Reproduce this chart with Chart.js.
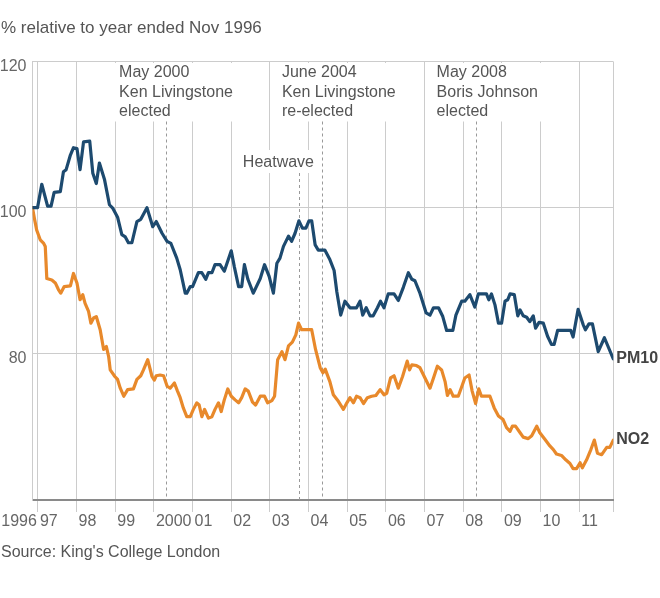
<!DOCTYPE html>
<html>
<head>
<meta charset="utf-8">
<script src="https://cdn.jsdelivr.net/npm/chart.js@4.4.1/dist/chart.umd.min.js"></script>
<style>
  html, body { margin: 0; padding: 0; background: #fff; }
  #wrap { position: relative; width: 660px; height: 598px; }
  #chart { position: absolute; left: 0; top: 0; }
  .note { position: absolute; left: 1px; white-space: nowrap; color: #555;
          font-family: "Liberation Sans", Arial, Helvetica, sans-serif; }
  #title { top: 19px; font-size: 17px; line-height: 17px; }
  #source { top: 544px; font-size: 16px; line-height: 16px; }
</style>
</head>
<body>
<div id="wrap">
  <canvas id="chart" width="660" height="598"></canvas>
  <div id="title" class="note">% relative to year ended Nov 1996</div>
  <div id="source" class="note">Source: King's College London</div>
</div>
<script>
// index values, year ended Nov 1996 = 100
const pm10Years = [1996.86, 1996.99, 1997.10, 1997.25, 1997.34, 1997.42, 1997.58, 1997.66, 1997.73, 1997.84,
  1997.92, 1998.01, 1998.09, 1998.18, 1998.34, 1998.42, 1998.51, 1998.59, 1998.72, 1998.85,
  1998.94, 1999.06, 1999.17, 1999.26, 1999.34, 1999.43, 1999.56, 1999.66, 1999.82, 1999.97,
  2000.06, 2000.21, 2000.34, 2000.44, 2000.59, 2000.68, 2000.81, 2000.85, 2000.94, 2001.00,
  2001.15, 2001.24, 2001.34, 2001.41, 2001.50, 2001.58, 2001.71, 2001.82, 2002.00, 2002.08,
  2002.19, 2002.27, 2002.34, 2002.43, 2002.57, 2002.75, 2002.86, 2002.98, 2003.09, 2003.18,
  2003.26, 2003.35, 2003.48, 2003.56, 2003.65, 2003.75, 2003.84, 2003.93, 2004.01, 2004.08,
  2004.17, 2004.25, 2004.42, 2004.55, 2004.66, 2004.73, 2004.83, 2004.94, 2005.07, 2005.24,
  2005.33, 2005.40, 2005.49, 2005.59, 2005.67, 2005.78, 2005.86, 2005.95, 2006.06, 2006.21,
  2006.32, 2006.45, 2006.58, 2006.67, 2006.75, 2006.88, 2007.04, 2007.14, 2007.23, 2007.36,
  2007.47, 2007.57, 2007.73, 2007.81, 2007.96, 2008.04, 2008.17, 2008.30, 2008.39, 2008.60,
  2008.66, 2008.73, 2008.82, 2008.91, 2008.99, 2009.08, 2009.15, 2009.21, 2009.32, 2009.41,
  2009.47, 2009.55, 2009.64, 2009.72, 2009.81, 2009.87, 2009.96, 2010.07, 2010.18, 2010.28,
  2010.35, 2010.44, 2010.78, 2010.84, 2010.97, 2011.10, 2011.16, 2011.25, 2011.34, 2011.49,
  2011.65, 2011.88];
const pm10Values = [100, 100, 103.2, 100.2, 100.2, 102.1, 102.2, 104.9, 105.2, 107.2,
  108.2, 108.1, 105.2, 109.0, 109.1, 104.7, 103.3, 106.1, 103.9, 100.4,
  99.9, 98.7, 96.3, 96.0, 95.2, 95.2, 98.1, 98.4, 100.0, 97.4,
  98.1, 96.5, 95.4, 95.1, 93.1, 91.5, 88.3, 88.3, 89.2, 89.2,
  91.1, 91.1, 90.2, 91.1, 91.1, 92.2, 92.2, 91.3, 94.1, 91.9,
  89.2, 89.2, 92.2, 90.2, 88.3, 90.3, 92.2, 90.6, 88.3, 92.4,
  93.1, 94.7, 96.1, 95.4, 96.5, 98.2, 97.2, 97.2, 98.2, 98.2,
  94.9, 94.2, 94.2, 92.9, 91.4, 88.5, 85.3, 87.2, 86.3, 86.3,
  87.2, 85.3, 86.3, 85.2, 85.2, 86.3, 87.2, 86.3, 88.2, 88.2,
  87.3, 89.1, 91.1, 90.2, 90.0, 88.3, 85.6, 85.3, 86.3, 86.3,
  85.1, 83.2, 83.2, 85.3, 87.2, 87.2, 88.1, 86.4, 88.2, 88.2,
  87.4, 88.2, 86.7, 84.2, 84.2, 87.2, 87.4, 88.2, 88.1, 85.2,
  86.0, 85.2, 85.0, 84.4, 85.2, 83.5, 84.3, 84.2, 82.4, 81.3,
  81.3, 83.2, 83.2, 82.3, 86.1, 84.0, 83.3, 84.1, 84.1, 80.3,
  82.2, 79.3];

const no2Years = [1996.86, 1996.91, 1996.97, 1997.06, 1997.15, 1997.19, 1997.23, 1997.36, 1997.45, 1997.53,
  1997.59, 1997.68, 1997.84, 1997.92, 1998.01, 1998.09, 1998.16, 1998.22, 1998.31, 1998.37,
  1998.44, 1998.51, 1998.61, 1998.70, 1998.77, 1998.83, 1998.87, 1998.99, 1999.06, 1999.13,
  1999.22, 1999.32, 1999.47, 1999.56, 1999.66, 1999.73, 1999.84, 1999.95, 2000.01, 2000.06,
  2000.16, 2000.25, 2000.34, 2000.42, 2000.53, 2000.61, 2000.68, 2000.76, 2000.85, 2000.94,
  2001.02, 2001.11, 2001.17, 2001.24, 2001.31, 2001.41, 2001.50, 2001.58, 2001.67, 2001.74,
  2001.82, 2001.91, 2002.00, 2002.10, 2002.19, 2002.27, 2002.36, 2002.44, 2002.55, 2002.63,
  2002.75, 2002.86, 2002.94, 2003.05, 2003.12, 2003.20, 2003.31, 2003.39, 2003.48, 2003.58,
  2003.67, 2003.74, 2003.82, 2003.99, 2004.08, 2004.18, 2004.30, 2004.37, 2004.43, 2004.55,
  2004.64, 2004.77, 2004.90, 2004.99, 2005.07, 2005.16, 2005.24, 2005.33, 2005.42, 2005.52,
  2005.63, 2005.74, 2005.85, 2005.95, 2006.02, 2006.12, 2006.21, 2006.32, 2006.43, 2006.55,
  2006.61, 2006.67, 2006.79, 2006.88, 2007.01, 2007.14, 2007.23, 2007.33, 2007.44, 2007.53,
  2007.59, 2007.66, 2007.74, 2007.87, 2007.96, 2008.04, 2008.15, 2008.23, 2008.32, 2008.40,
  2008.47, 2008.69, 2008.80, 2008.91, 2009.03, 2009.12, 2009.21, 2009.27, 2009.35, 2009.47,
  2009.55, 2009.68, 2009.77, 2009.90, 2009.98, 2010.11, 2010.24, 2010.33, 2010.41, 2010.54,
  2010.65, 2010.76, 2010.84, 2010.93, 2011.02, 2011.08, 2011.19, 2011.30, 2011.39, 2011.47,
  2011.58, 2011.71, 2011.79, 2011.88];
const no2Values = [100, 98.5, 96.9, 95.6, 95.1, 94.7, 90.3, 90.1, 89.7, 88.8,
  88.3, 89.2, 89.3, 91.0, 89.7, 87.4, 88.1, 86.9, 85.8, 84.2,
  84.9, 85.1, 83.3, 80.6, 81.0, 79.6, 77.8, 76.9, 76.5, 75.3,
  74.2, 75.1, 75.2, 76.5, 77.0, 77.8, 79.2, 76.9, 76.4, 77.0,
  77.1, 77.0, 75.6, 75.3, 76.0, 74.9, 74.0, 72.6, 71.4, 71.4,
  72.4, 73.3, 73.0, 71.4, 72.4, 71.2, 71.4, 72.4, 73.3, 72.1,
  73.7, 75.2, 74.2, 73.7, 73.3, 74.0, 75.2, 74.9, 73.4, 73.0,
  74.2, 74.2, 73.3, 73.6, 74.2, 79.2, 80.3, 79.2, 81.1, 81.6,
  82.6, 84.2, 83.3, 83.3, 83.3, 80.6, 78.1, 77.4, 77.9, 76.2,
  74.4, 73.5, 72.4, 73.3, 74.0, 73.3, 74.2, 74.0, 73.2, 74.0,
  74.2, 74.3, 75.1, 74.4, 74.6, 76.7, 77.0, 75.3, 76.9, 79.0,
  77.8, 78.5, 78.4, 78.1, 76.7, 75.3, 76.7, 78.3, 77.8, 76.2,
  74.3, 75.1, 74.2, 74.2, 75.5, 76.7, 77.1, 74.9, 73.2, 75.2,
  74.2, 74.2, 72.6, 71.5, 71.0, 69.9, 69.4, 70.1, 70.1, 69.2,
  68.6, 68.4, 68.8, 70.1, 69.2, 68.3, 67.4, 66.9, 66.3, 66.1,
  65.5, 65.0, 64.3, 64.3, 65.1, 64.4, 65.5, 66.9, 68.2, 66.4,
  66.2, 67.2, 67.2, 68.2];

const tickYears = [1996, 1997, 1998, 1999, 2000, 2001, 2002, 2003, 2004, 2005, 2006, 2007, 2008, 2009, 2010, 2011, 2011.88];
const tickLabels = ['1996', '97', '98', '99', '2000', '01', '02', '03', '04', '05', '06', '07', '08', '09', '10', '11', ''];
const yTicks = [60, 80, 100, 120];

// events marked with dashed lines
const eventYears = [2000.30, 2003.75, 2004.35, 2008.32];
const notes = [
  { at: 1999.10, lines: ['May 2000', 'Ken Livingstone', 'elected'] },
  { at: 2003.31, lines: ['June 2004', 'Ken Livingstone', 're-elected'] },
  { at: 2007.31, lines: ['May 2008', 'Boris Johnson', 'elected'] },
];
const heatwaveAt = 2002.30;

const FONT = '"Liberation Sans", Arial, Helvetica, sans-serif';
const pm10Color = '#1d4a6f';
const no2Color = '#e8892b';

const toPoints = (xs, ys) => xs.map((x, i) => ({ x: x, y: ys[i] }));

const annotations = {
  id: 'annotations',
  beforeDatasetsDraw(chart) {
    const { ctx, chartArea: a } = chart;
    const x = chart.scales.x;
    ctx.save();
    ctx.font = '16px ' + FONT;

    // white boxes so the grid stops under the notes
    ctx.fillStyle = '#fff';
    notes.forEach((n) => {
      const left = x.getPixelForValue(n.at);
      const w = Math.max(...n.lines.map((l) => ctx.measureText(l).width));
      ctx.fillRect(left - 5, a.top + 1.5, w + 10, 58.5);
    });
    const hx = x.getPixelForValue(heatwaveAt);
    const hw = ctx.measureText('Heatwave').width;
    ctx.fillRect(hx - 3, a.top + 88.5, hw + 6, 23);

    // dashed event lines
    ctx.strokeStyle = '#999';
    ctx.lineWidth = 1;
    ctx.setLineDash([3, 3]);
    eventYears.forEach((ev, i) => {
      const px = Math.round(x.getPixelForValue(ev)) + 0.5;
      const top = i === 1 ? a.top + 111.5 : a.top + 60;
      ctx.beginPath();
      ctx.moveTo(px, top);
      ctx.lineTo(px, a.bottom);
      ctx.stroke();
    });
    ctx.setLineDash([]);

    // note text
    ctx.fillStyle = '#555';
    ctx.textAlign = 'left';
    ctx.textBaseline = 'alphabetic';
    notes.forEach((n) => {
      const left = x.getPixelForValue(n.at);
      n.lines.forEach((l, i) => ctx.fillText(l, left, a.top + 15.5 + i * 19.5));
    });
    ctx.fillText('Heatwave', hx, a.top + 105.5);
    ctx.restore();
  },
  afterDatasetsDraw(chart) {
    const { ctx } = chart;
    ctx.save();
    ctx.font = 'bold 16px ' + FONT;
    ctx.fillStyle = '#444';
    ctx.textBaseline = 'middle';
    chart.data.datasets.forEach((ds, i) => {
      const pts = chart.getDatasetMeta(i).data;
      const last = pts[pts.length - 1];
      ctx.fillText(ds.label, last.x + 3, last.y);
    });
    ctx.restore();
  },
};

new Chart(document.getElementById('chart'), {
  type: 'line',
  data: {
    datasets: [
      { label: 'PM10', data: toPoints(pm10Years, pm10Values), borderColor: pm10Color },
      { label: 'NO2', data: toPoints(no2Years, no2Values), borderColor: no2Color },
    ],
  },
  options: {
    responsive: false,
    animation: false,
    devicePixelRatio: 1,
    layout: { padding: { top: 61.5, right: 46.7, bottom: 58, left: 0 } },
    elements: {
      point: { radius: 0 },
      line: { borderWidth: 3.2, tension: 0, borderJoinStyle: 'round', borderCapStyle: 'round' },
    },
    plugins: { legend: { display: false }, tooltip: { enabled: false } },
    scales: {
      x: {
        type: 'linear',
        min: 1996.86,
        max: 2011.88,
        afterBuildTicks: (s) => { s.ticks = tickYears.map((v) => ({ value: v })); },
        afterFit: (s) => { s.height = 40; },
        grid: { color: '#cccccc', tickColor: '#cccccc', drawTicks: true, tickLength: 12 },
        border: { color: '#8a8a8a', width: 2 },
        ticks: {
          autoSkip: false, maxRotation: 0, align: 'start', labelOffset: 2, padding: 0,
          color: '#666', font: { family: FONT, size: 16 },
          callback: (v, i) => tickLabels[i],
        },
      },
      y: {
        min: 60,
        max: 120,
        afterBuildTicks: (s) => { s.ticks = yTicks.map((v) => ({ value: v })); },
        afterFit: (s) => { s.width = 32.5; },
        grid: { drawTicks: false, color: (c) => (c.tick && c.tick.value === 60 ? 'rgba(0,0,0,0)' : '#cccccc') },
        border: { color: '#cccccc', width: 1 },
        ticks: {
          padding: 6, labelOffset: 5, color: '#666', font: { family: FONT, size: 16 },
          callback: (v) => (v === 60 ? '' : v),
        },
      },
    },
  },
  plugins: [annotations],
});
</script>
</body>
</html>
